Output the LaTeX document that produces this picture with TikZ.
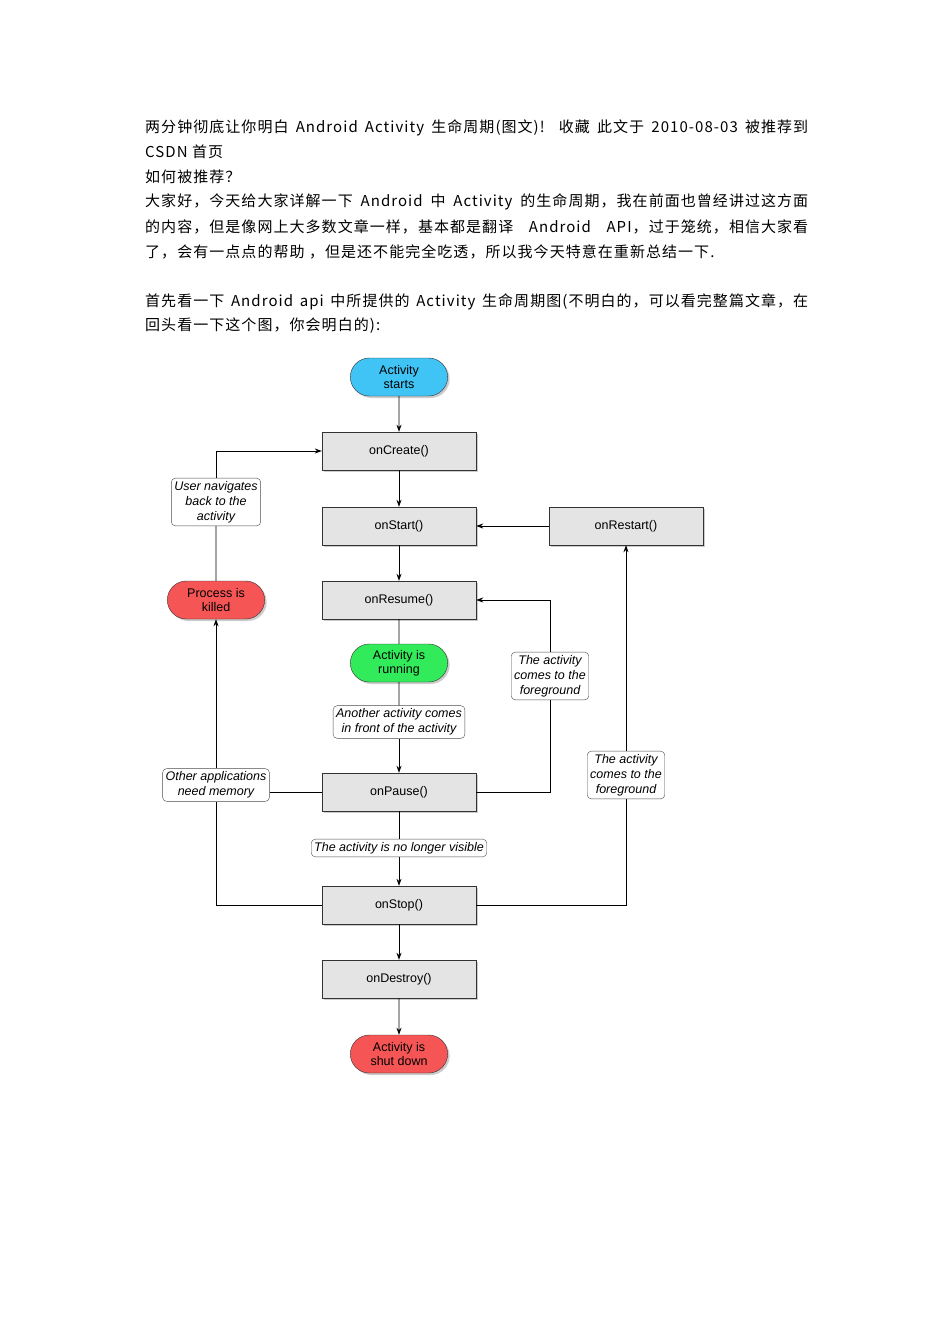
\documentclass[tikz,border=0pt]{standalone}
\usepackage{fontspec}
\setmainfont{Liberation Serif}
\newfontfamily\cjk[LetterSpace=7]{Noto Sans CJK SC}
\newfontfamily\ar{Liberation Sans}
\usetikzlibrary{shadows,arrows.meta,shapes.misc}
\definecolor{boxg}{HTML}{E4E4E4}
\tikzset{
 box/.style={draw=black!80,fill=boxg,minimum width=154pt,minimum height=38pt,font=\ar\fontsize{12.5}{13}\selectfont,drop shadow={shadow xshift=2pt,shadow yshift=-2pt,opacity=.4}},
 pill/.style={draw=black!80,rounded rectangle,minimum width=104pt,minimum height=38pt,align=center,font=\ar\fontsize{12.5}{14}\selectfont,drop shadow={shadow xshift=2pt,shadow yshift=-2pt,opacity=.4}},
 lab/.style={draw=black!70,fill=white,rounded corners=4pt,align=center,inner sep=3pt,font=\ar\itshape\fontsize{12.5}{15}\selectfont},
 txt/.style={anchor=west,inner sep=0pt,font=\cjk\fontsize{15}{16}\selectfont},
 arr/.style={-{Stealth[length=7pt,width=5pt]},line width=0.8pt},
 ln/.style={line width=0.8pt}
}
\newcommand\fullline[1]{\makebox[663pt][s]{#1}}
\begin{document}
\begin{tikzpicture}[x=1pt,y=-1pt]
\useasboundingbox[fill=white] (0,0) rectangle (950,1344);
\node[txt] at (145,128) {\fullline{两分钟彻底让你明白 Android Activity 生命周期(图文)! 收藏 此文于 2010-08-03 被推荐到}};
\node[txt] at (145,152) {CSDN 首页};
\node[txt] at (145,177) {如何被推荐？};
\node[txt] at (145,202) {\fullline{大家好，今天给大家详解一下 Android 中 Activity 的生命周期，我在前面也曾经讲过这方面}};
\node[txt] at (145,227) {\fullline{的内容，但是像网上大多数文章一样，基本都是翻译 Android API，过于笼统，相信大家看}};
\node[txt] at (145,252) {了，会有一点点的帮助 ，但是还不能完全吃透，所以我今天特意在重新总结一下.};
\node[txt] at (145,302) {\fullline{首先看一下 Android api 中所提供的 Activity 生命周期图(不明白的，可以看完整篇文章，在}};
\node[txt] at (145,326) {回头看一下这个图，你会明白的):};

\node[pill,fill={rgb,255:red,64;green,196;blue,245}] (start) at (399,377) {Activity\\starts};
\node[box] (create) at (399,451) {onCreate()};
\node[box] (startn) at (399,526) {onStart()};
\node[box] (restart) at (626,526) {onRestart()};
\node[box] (resume) at (399,600) {onResume()};
\node[pill,fill={rgb,255:red,50;green,235;blue,90}] (run) at (399,663) {Activity is\\running};
\node[box] (pause) at (399,792) {onPause()};
\node[box] (stop) at (399,905) {onStop()};
\node[box] (destroy) at (399,979) {onDestroy()};
\node[pill,fill={rgb,255:red,245;green,85;blue,85}] (shut) at (399,1054) {Activity is\\shut down};
\node[pill,fill={rgb,255:red,245;green,85;blue,85}] (killed) at (216,600) {Process is\\killed};

\node[lab] (l1) at (216,502) {User navigates\\back to the\\activity};
\node[lab] (l2) at (550,676) {The activity\\comes to the\\foreground};
\node[lab] (l3) at (399,722) {Another activity comes\\in front of the activity};
\node[lab] (l4) at (216,785) {Other applications\\need memory};
\node[lab] (l5) at (399,848) {The activity is no longer visible};
\node[lab] (l6) at (626,775) {The activity\\comes to the\\foreground};

\draw[arr] (start) -- (create);
\draw[arr] (create) -- (startn);
\draw[arr] (startn) -- (resume);
\draw[ln] (resume) -- (run);
\draw[ln] (run) -- (l3);
\draw[arr] (l3) -- (pause);
\draw[ln] (pause) -- (l5);
\draw[arr] (l5) -- (stop);
\draw[arr] (stop) -- (destroy);
\draw[arr] (destroy) -- (shut);
\draw[arr] (restart) -- (startn);
\draw[ln] (pause.east) -| (l2.south);
\draw[arr] (l2.north) |- (resume.east);
\draw[ln] (stop.east) -| (l6.south);
\draw[arr] (l6.north) -- (restart.south);
\draw[ln] (pause.west) -- (pause.west -| l4.east);
\draw[ln] (stop.west) -| (l4.south);
\draw[arr] (l4.north) -- (killed.south);
\draw[ln] (killed) -- (l1);
\draw[arr] (l1.north) |- (create.west);
\end{tikzpicture}
\end{document}
